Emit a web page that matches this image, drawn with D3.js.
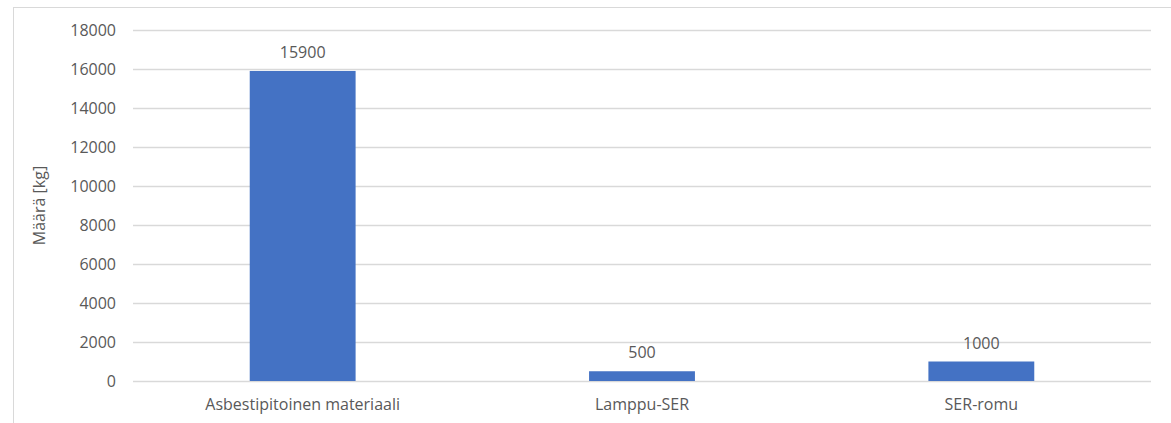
<!DOCTYPE html>
<html>
<head>
<meta charset="utf-8">
<script src="https://cdn.jsdelivr.net/npm/d3@7"></script>
<style>
  body { margin: 0; background: #fff; }
  text { font-family: "Open Sans", sans-serif; fill: #595959; }
</style>
</head>
<body>
<svg id="chart" width="1171" height="423"></svg>
<script>
const categories = ['Asbestipitoinen materiaali', 'Lamppu-SER', 'SER-romu']
const amounts = [15900, 500, 1000]
const yTicks = [0, 2000, 4000, 6000, 8000, 10000, 12000, 14000, 16000, 18000]
const yTitle = 'Määrä [kg]'

const svg = d3.select('#chart')
const plotLeft = 133
const plotRight = 1151
const plotTop = 30
const plotBottom = 381
const fontSize = '16px'

// chart frame
svg.append('rect')
  .attr('x', 13.5)
  .attr('y', 7.5)
  .attr('width', 1200)
  .attr('height', 500)
  .attr('fill', 'none')
  .attr('stroke', '#d9d9d9')

const x = d3.scaleBand()
  .domain(categories)
  .range([plotLeft, plotRight])
  .paddingInner(0.688)
  .paddingOuter(0.344)

const y = d3.scaleLinear()
  .domain([0, 18000])
  .range([plotBottom, plotTop])

// gridlines
svg.append('g')
  .selectAll('line')
  .data(yTicks)
  .enter()
  .append('line')
  .attr('x1', plotLeft)
  .attr('x2', plotRight)
  .attr('y1', d => Math.round(y(d)) + 0.5)
  .attr('y2', d => Math.round(y(d)) + 0.5)
  .attr('stroke', '#d9d9d9')
  .attr('stroke-width', 1.3)

// y tick labels
const yAxis = svg.append('g')
  .attr('transform', `translate(${plotLeft - 17}, 0)`)
  .call(d3.axisLeft(y).tickValues(yTicks).tickSize(0).tickPadding(0).tickFormat(d3.format('d')))
yAxis.select('.domain').remove()
yAxis.selectAll('text')
  .style('font-size', fontSize)
  .style('font-family', '"Open Sans", sans-serif')
  .attr('fill', '#595959')

// bars
svg.append('g')
  .selectAll('rect')
  .data(amounts)
  .enter()
  .append('rect')
  .attr('x', (d, i) => x(categories[i]))
  .attr('width', x.bandwidth())
  .attr('y', d => y(d))
  .attr('height', d => y(0) - y(d))
  .attr('fill', '#4472c4')

// value labels
svg.append('g')
  .selectAll('text')
  .data(amounts)
  .enter()
  .append('text')
  .attr('x', (d, i) => x(categories[i]) + x.bandwidth() / 2)
  .attr('y', d => y(d) - 13)
  .attr('text-anchor', 'middle')
  .style('font-size', fontSize)
  .text(d => d)

// x category labels
const xAxis = svg.append('g')
  .attr('transform', `translate(0, ${plotBottom + 18})`)
  .call(d3.axisBottom(x).tickSize(0).tickPadding(0))
xAxis.select('.domain').remove()
xAxis.selectAll('text')
  .style('font-size', fontSize)
  .style('font-family', '"Open Sans", sans-serif')
  .attr('fill', '#595959')

// y title
svg.append('text')
  .attr('transform', `translate(45, ${(plotTop + plotBottom) / 2}) rotate(-90)`)
  .attr('text-anchor', 'middle')
  .style('font-size', fontSize)
  .text(yTitle)
</script>
</body>
</html>
